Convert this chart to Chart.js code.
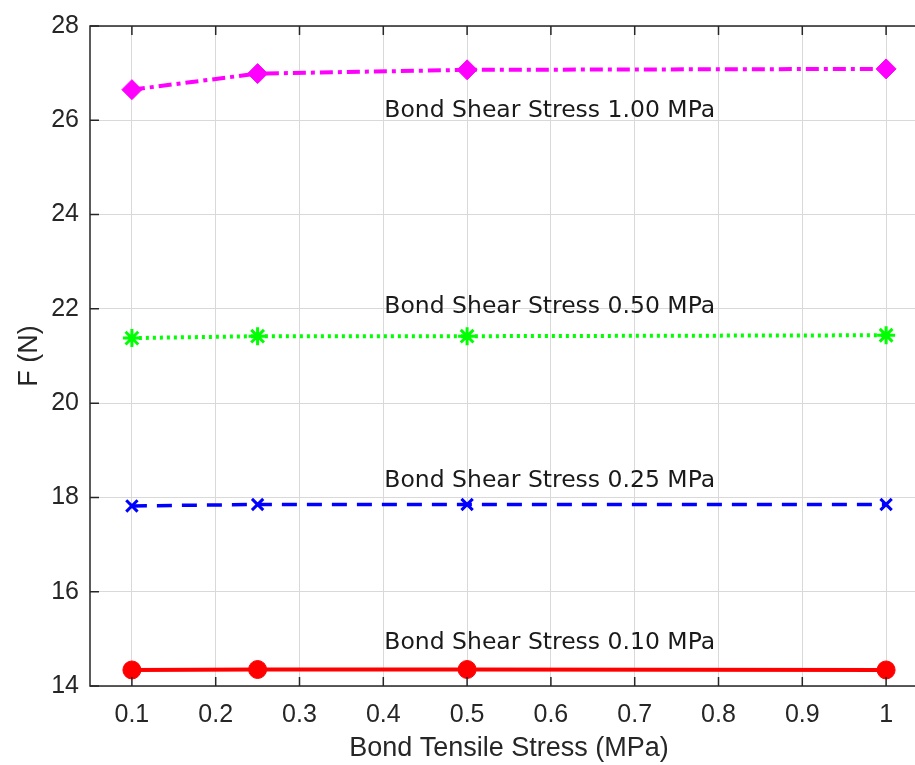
<!DOCTYPE html>
<html>
<head>
<meta charset="utf-8">
<script src="https://cdn.jsdelivr.net/npm/chart.js@4/dist/chart.umd.min.js"></script>
<style>
  html, body { margin: 0; padding: 0; background: #fff; overflow: hidden; }
  #wrap { width: 940px; height: 765px; }
</style>
</head>
<body>
<div id="wrap"><canvas id="c" width="940" height="765"></canvas></div>
<script>
// bond tensile stress (MPa) at which F was computed
const tensile = [0.1, 0.25, 0.5, 1]
// F (N), one series per bond shear stress
const fShear100 = [26.65, 26.99, 27.07, 27.09]
const fShear050 = [21.38, 21.42, 21.42, 21.44]
const fShear025 = [17.82, 17.85, 17.85, 17.85]
const fShear010 = [14.34, 14.35, 14.35, 14.34]

const xTicks = [0.1, 0.2, 0.3, 0.4, 0.5, 0.6, 0.7, 0.8, 0.9, 1]
const yTicks = [14, 16, 18, 20, 22, 24, 26, 28]

// text labels placed in data units
const noteTexts = ['Bond Shear Stress 1.00 MPa', 'Bond Shear Stress 0.50 MPa', 'Bond Shear Stress 0.25 MPa', 'Bond Shear Stress 0.10 MPa']
const noteX = [0.4, 0.4, 0.4, 0.4]
const noteY = [26.08, 21.91, 18.22, 14.79]

const ink = '#262626'
const pts = (ys) => tensile.map((x, i) => ({ x, y: ys[i] }))

const notesPlugin = {
  id: 'notes',
  afterDatasetsDraw(chart) {
    const { ctx, chartArea, scales } = chart
    const sx = scales.x, sy = scales.y
    ctx.save()
    // axes box with inward ticks (right side sits past the window edge)
    ctx.strokeStyle = ink
    ctx.lineWidth = 1.5
    ctx.strokeRect(chartArea.left, chartArea.top, chartArea.right - chartArea.left, chartArea.bottom - chartArea.top)
    ctx.beginPath()
    xTicks.forEach((v) => {
      const px = sx.getPixelForValue(v)
      ctx.moveTo(px, chartArea.bottom); ctx.lineTo(px, chartArea.bottom - 9)
      ctx.moveTo(px, chartArea.top); ctx.lineTo(px, chartArea.top + 9)
    })
    yTicks.forEach((v) => {
      const py = sy.getPixelForValue(v)
      ctx.moveTo(chartArea.left, py); ctx.lineTo(chartArea.left + 9, py)
    })
    ctx.stroke()
    // notes
    ctx.fillStyle = '#1a1a1a'
    ctx.font = '23.5px "DejaVu Sans"'
    ctx.textAlign = 'left'
    ctx.textBaseline = 'alphabetic'
    noteTexts.forEach((t, i) => {
      ctx.fillText(t, sx.getPixelForValue(noteX[i]) + 1, sy.getPixelForValue(noteY[i]))
    })
    ctx.restore()
  },
}

new Chart(document.getElementById('c'), {
  type: 'line',
  data: {
    datasets: [
      {
        label: '1.00 MPa',
        data: pts(fShear100),
        borderColor: '#ff00ff',
        backgroundColor: '#ff00ff',
        borderWidth: 4,
        borderDash: [13, 5, 4, 5],
        pointStyle: 'rectRot',
        pointRadius: 10,
        pointBorderWidth: 1,
      },
      {
        label: '0.50 MPa',
        data: pts(fShear050),
        borderColor: '#00ff00',
        backgroundColor: '#00ff00',
        borderWidth: 4,
        borderDash: [3, 4],
        pointStyle: 'star',
        pointRadius: 9,
        pointBorderWidth: 3,
      },
      {
        label: '0.25 MPa',
        data: pts(fShear025),
        borderColor: '#0000ff',
        backgroundColor: '#0000ff',
        borderWidth: 3.5,
        borderDash: [15, 10],
        pointStyle: 'crossRot',
        pointRadius: 8,
        pointBorderWidth: 3,
      },
      {
        label: '0.10 MPa',
        data: pts(fShear010),
        borderColor: '#ff0000',
        backgroundColor: '#ff0000',
        borderWidth: 4,
        pointStyle: 'circle',
        pointRadius: 9,
        pointBorderWidth: 1,
      },
    ],
  },
  options: {
    responsive: false,
    animation: false,
    layout: { padding: { left: 0, top: 24, right: 2, bottom: 0 } },
    plugins: { legend: { display: false }, tooltip: { enabled: false } },
    scales: {
      x: {
        type: 'linear',
        min: 0.05,
        max: 1.05,
        afterBuildTicks: (s) => { s.ticks = xTicks.map((v) => ({ value: v })) },
        afterFit: (s) => { s.height = 79 },
        ticks: {
          callback: (v) => String(v),
          color: ink,
          font: { family: '"Liberation Sans", Arial', size: 25 },
          padding: 14,
          maxRotation: 0,
          autoSkip: false,
        },
        grid: { color: '#d9d9d9', lineWidth: 1, drawTicks: false },
        border: { display: false },
        title: {
          display: true,
          text: 'Bond Tensile Stress (MPa)',
          color: ink,
          font: { family: '"Liberation Sans", Arial', size: 27 },
          padding: { top: 0, bottom: 0 },
        },
      },
      y: {
        min: 14,
        max: 28,
        afterBuildTicks: (s) => { s.ticks = yTicks.map((v) => ({ value: v })) },
        afterFit: (s) => { s.width = 90 },
        ticks: {
          color: ink,
          font: { family: '"Liberation Sans", Arial', size: 25 },
          padding: 11,
        },
        grid: { color: '#d9d9d9', lineWidth: 1, drawTicks: false },
        border: { display: false },
        title: {
          display: true,
          text: 'F (N)',
          color: ink,
          font: { family: '"Liberation Sans", Arial', size: 27 },
          padding: { top: 13, bottom: 13 },
        },
      },
    },
  },
  plugins: [notesPlugin],
})
</script>
</body>
</html>
